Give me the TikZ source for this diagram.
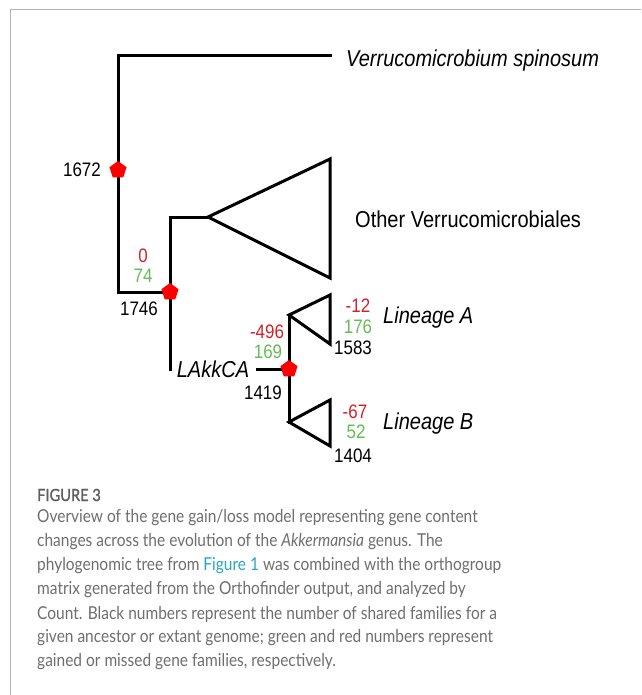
\documentclass[tikz,border=0pt]{standalone}
\usepackage{fontspec}
\setmainfont{Liberation Sans}[FakeStretch=0.87]
\newfontfamily\capfont{Lato}[FakeStretch=0.87]
\newfontfamily\capbold{Lato}[FakeStretch=0.87, FakeBold=1.2]
\usetikzlibrary{shapes.geometric}
\definecolor{lossred}{HTML}{D42027}
\definecolor{gaingreen}{HTML}{66BB55}
\definecolor{capgray}{HTML}{6E6E6E}
\definecolor{headgray}{HTML}{5E5E5E}
\definecolor{linkteal}{HTML}{2AA6BE}
\definecolor{framegray}{HTML}{B4B4B4}
\tikzset{
  branch/.style={line width=3pt, line cap=rect},
  clade/.style={line width=3pt, line join=miter},
  event/.style={regular polygon, regular polygon sides=5, fill=red, draw=none,
                minimum size=18pt, inner sep=0pt},
  taxon/.style={font=\fontsize{23}{26}\selectfont\itshape, inner sep=0pt, anchor=west},
  group/.style={font=\fontsize{23}{26}\selectfont, inner sep=0pt, anchor=west},
  shared/.style={font=\fontsize{19.5}{22}\selectfont, inner sep=0pt, text=black},
  loss/.style={font=\fontsize{19.5}{22}\selectfont, inner sep=0pt, text=lossred},
  gain/.style={font=\fontsize{19.5}{22}\selectfont, inner sep=0pt, text=gaingreen},
  capline/.style={font=\capfont\fontsize{17.8}{24}\selectfont, text=capgray,
                  inner sep=0pt, anchor=west},
  caphead/.style={font=\capbold\fontsize{16.8}{18}\selectfont, text=headgray,
                  inner sep=0pt, anchor=west},
}
\begin{document}
\begin{tikzpicture}[x=1pt,y=-1pt]
\useasboundingbox (0,0) rectangle (641,695);
% frame
\draw[framegray, line width=1pt] (10,695) -- (10,10) -- (641,10);

% tree coordinates
\coordinate (vsTip) at (330,56);
\coordinate (vsTop) at (118,56);
\coordinate (rootLow) at (118,292);
\coordinate (n1746) at (170,292);
\coordinate (ovTop) at (170,217);
\coordinate (ovApex) at (208,217);
\coordinate (lakkEnd) at (170,369);
\coordinate (lakkStub) at (257,369);
\coordinate (n1419) at (289,369);
\coordinate (laApex) at (289,315);
\coordinate (lbApex) at (289,422);

% branches
\draw[branch] (vsTip) -- (vsTop) -- (rootLow) -- (n1746);
\draw[branch] (ovApex) -- (ovTop) -- (lakkEnd);
\draw[branch] (lakkStub) -- (n1419);
\draw[branch] (laApex) -- (lbApex);

% collapsed clades
\draw[clade] (ovApex) -- (330,159) -- (330,278) -- cycle;
\draw[clade] (laApex) -- (330,295) -- (330,344) -- cycle;
\draw[clade] (lbApex) -- (330,400) -- (330,446) -- cycle;

% gain/loss events
\node[event] (e1672) at (118,170) {};
\node[event] at (n1746) {};
\node[event] at (n1419) {};

% taxon labels
\node[taxon] (vs) at (346,61) {Verrucomicrobium spinosum};
\node[group] (ov) at (355,219) {Other Verrucomicrobiales};
\node[taxon, anchor=center] (lakk) at (213,369) {LAkkCA};
\node[taxon] (linA) at (383,318) {Lineage A};
\node[taxon] (linB) at (383,424) {Lineage B};

% counts
\node[shared] (c1672) at (82,170) {1672};
\node[loss] (l1746) at (143,256) {0};
\node[gain] (g1746) at (143,276) {74};
\node[shared] (c1746) at (139,309) {1746};
\node[loss] (l1419) at (267,332) {-496};
\node[gain] (g1419) at (268,352) {169};
\node[shared] (c1419) at (263,393) {1419};
\node[loss] (lA) at (358,306) {-12};
\node[gain] (gA) at (358,327) {176};
\node[shared] (cA) at (353,348) {1583};
\node[loss] (lB) at (355,412) {-67};
\node[gain] (gB) at (356,432) {52};
\node[shared] (cB) at (353,456) {1404};

% caption
\node[caphead] (fig) at (37,495) {FIGURE 3};
\node[capline] (cl1) at (37,518) {Overview of the gene gain/loss model representing gene content};
\node[capline] (cl2) at (37,542) {changes across the evolution of the \textit{Akkermansia} genus. The};
\node[capline] (cl3) at (37,566) {phylogenomic tree from \textcolor{linkteal}{Figure 1} was combined with the orthogroup};
\node[capline] (cl4) at (37,590) {matrix generated from the Orthofinder output, and analyzed by};
\node[capline] (cl5) at (37,614) {Count. Black numbers represent the number of shared families for a};
\node[capline] (cl6) at (37,638) {given ancestor or extant genome; green and red numbers represent};
\node[capline] (cl7) at (37,662) {gained or missed gene families, respectively.};
\end{tikzpicture}
\end{document}
